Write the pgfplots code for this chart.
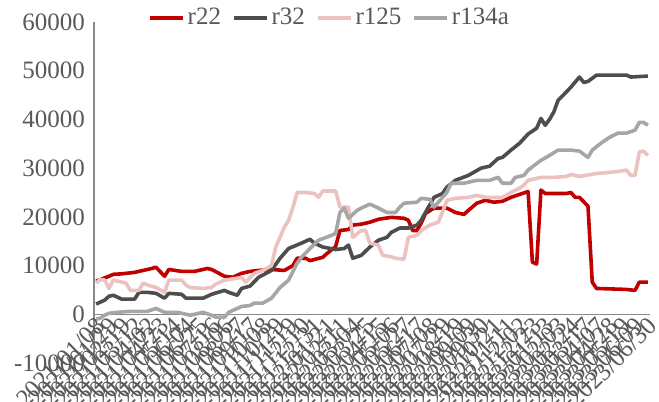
\documentclass[border=0pt]{standalone}
\usepackage{fontspec}
\setmainfont{Liberation Serif}
\usepackage{pgfplots}
\pgfplotsset{compat=1.18}

\definecolor{cR22}{HTML}{C00000}
\definecolor{cR32}{HTML}{4D4D4D}
\definecolor{cR125}{HTML}{EBC2C0}
\definecolor{cR134}{HTML}{A6A6A6}
\definecolor{txt}{HTML}{595959}
\definecolor{axl}{HTML}{898989}

\begin{document}
\begin{tikzpicture}
\begin{axis}[
  at={(0,0)}, anchor=south west,
  scale only axis, width=278pt, height=170.5pt,
  xmin=-0.5, xmax=129.5, ymin=-10000, ymax=60000,
  scaled y ticks=false,
  axis x line*=middle, axis y line*=left,
  hide obscured x ticks=false, hide obscured y ticks=false,
  axis line style={draw=axl, line width=0.6pt},
  major tick length=0pt,
  ytick={-10000,0,10000,20000,30000,40000,50000,60000},
  yticklabels={-10000,0,10000,20000,30000,40000,50000,60000},
  yticklabel style={font=\fontsize{12.5}{15}\selectfont, text=txt, xshift=-1pt},
  xtick={0,3,...,129},
  xticklabels={2021/01/08,2021/01/29,2021/02/19,2021/03/12,2021/04/02,2021/04/23,2021/05/14,2021/06/04,2021/06/25,2021/07/16,2021/08/06,2021/08/27,2021/09/17,2021/10/08,2021/10/29,2021/11/19,2021/12/10,2021/12/31,2022/01/21,2022/02/11,2022/03/04,2022/03/25,2022/04/15,2022/05/06,2022/05/27,2022/06/17,2022/07/08,2022/07/29,2022/08/19,2022/09/09,2022/09/30,2022/10/21,2022/11/11,2022/12/02,2022/12/23,2023/01/13,2023/02/03,2023/02/24,2023/03/17,2023/04/07,2023/04/28,2023/05/19,2023/06/09,2023/06/30},
  xticklabel style={font=\fontsize{12.5}{15}\selectfont, text=txt, rotate=45, anchor=east, inner sep=1pt, yshift=-4.5pt},
  legend columns=4,
  legend style={at={(0.4245,1.0117)}, anchor=center, draw=none, fill=none,
    font=\fontsize{12.5}{15}\selectfont, text=txt,
    /tikz/every even column/.append style={column sep=4pt},
    nodes={inner xsep=1.5pt, inner ysep=0pt}},
  legend image code/.code={\draw (0pt,0pt) -- (16.5pt,0pt);},
  every axis plot/.append style={line width=1.8pt, line join=round, no markers},
]
\addplot[cR22] coordinates {
(0,6800)(3,7800)(4,8200)(6,8300)(9,8600)(13,9400)(14,9650)(16,7800)(17,9200)(20,8800)
(23,8800)(26,9400)(27,9200)(30,7800)(32,7600)(34,8400)(36,8800)(38,9000)(41,9200)(44,9000)
(46,10000)(47,11500)(49,11500)(50,11000)(53,11700)(54,12500)(56,13900)(57,17200)(59,17400)(60,18300)
(62,18500)(64,18900)(66,19500)(69,19900)(72,19700)(73,19300)(74,17200)(75,17200)(76,18700)(77,20700)
(79,21800)(82,21800)(84,20900)(86,20500)(87,21300)(89,22800)(91,23400)(93,23000)(95,23200)(97,24000)
(99,24600)(101,25200)(102,10700)(103,10300)(104,25500)(105,24800)(110,24800)(111,25000)(112,24000)(113,24000)
(115,22200)(116,6600)(117,5300)(124,5100)(126,4900)(127,6600)(129,6600)
};
\addlegendentry{r22}
\addplot[cR32] coordinates {
(0,2100)(2,2900)(3,3700)(4,3900)(6,3100)(9,3100)(10,4500)(12,4500)(14,4300)(16,3300)
(17,4300)(20,4100)(21,3300)(25,3300)(27,4100)(30,4900)(31,4500)(33,3900)(34,5300)(36,5800)
(38,7600)(41,9000)(43,11500)(45,13500)(48,14600)(50,15400)(51,14600)(53,13800)(56,13300)(58,13500)
(59,14200)(60,11500)(62,12100)(64,13800)(66,15200)(68,15800)(69,16800)(71,17700)(73,17700)(75,18300)
(76,19300)(77,20900)(79,24000)(81,24800)(82,26100)(84,27500)(87,28500)(90,30000)(92,30400)(94,32000)
(95,32200)(97,33700)(99,35100)(101,37000)(103,38200)(104,40200)(105,38800)(106,40000)(107,41500)(108,43900)
(111,46600)(113,48700)(114,47600)(115,47800)(117,49100)(124,49100)(125,48700)(129,48900)
};
\addlegendentry{r32}
\addplot[cR125] coordinates {
(0,6400)(1,7200)(2,7000)(3,5300)(4,7000)(5,6800)(7,6400)(8,4900)(10,4900)(11,6400)
(12,6000)(14,5500)(16,4500)(17,7000)(20,7000)(21,6000)(22,5500)(25,5300)(27,5500)(28,6200)
(30,7000)(33,7400)(34,7600)(35,6600)(37,8400)(39,9000)(41,10000)(42,13800)(44,17900)(45,19300)
(46,21900)(47,25000)(49,25000)(51,24800)(52,24000)(53,25300)(56,25300)(57,22000)(59,22000)(60,15800)
(62,17200)(63,17200)(64,14600)(66,14200)(67,12100)(69,11800)(70,11500)(72,11300)(73,15800)(75,16200)
(76,17200)(78,18300)(80,18900)(81,21000)(82,23400)(84,23800)(87,24000)(89,24400)(91,24000)(95,24000)
(97,25000)(99,25900)(100,26500)(101,27500)(104,28100)(107,28100)(110,28300)(111,28700)(113,28300)(117,28900)
(122,29300)(124,29600)(125,28500)(126,28500)(127,33300)(128,33500)(129,32600)
};
\addlegendentry{r125}
\addplot[cR134] coordinates {
(0,-1000)(1,-800)(2,-200)(3,200)(5,400)(8,600)(12,600)(14,1200)(16,400)(19,400)
(22,-200)(24,200)(25,400)(27,-200)(28,-600)(30,-600)(31,400)(34,1600)(36,1800)(37,2300)
(39,2300)(41,3300)(43,5500)(45,7000)(47,10500)(48,11700)(50,13500)(52,15200)(55,16200)(56,16600)
(57,20900)(58,21800)(59,19700)(61,21300)(62,21800)(64,22600)(66,21800)(68,20900)(70,20900)(71,22000)
(72,22800)(75,23000)(76,23800)(78,23600)(79,22000)(80,23000)(82,25000)(83,26900)(86,26900)(89,27500)
(92,27500)(94,28100)(95,26900)(97,26900)(98,28100)(100,28500)(101,29600)(104,31600)(106,32600)(108,33700)
(111,33700)(113,33500)(115,32200)(116,33700)(118,35100)(120,36300)(122,37200)(124,37200)(126,37800)(127,39400)
(128,39400)(129,38800)
};
\addlegendentry{r134a}
\coordinate (bl) at (rel axis cs:0,0);
\coordinate (tr) at (rel axis cs:1,1);
\end{axis}
\pgfresetboundingbox
\path[use as bounding box] ([xshift=-47pt,yshift=-19.5pt]bl) rectangle ([xshift=4.5pt,yshift=11pt]tr);
\end{tikzpicture}
\end{document}
